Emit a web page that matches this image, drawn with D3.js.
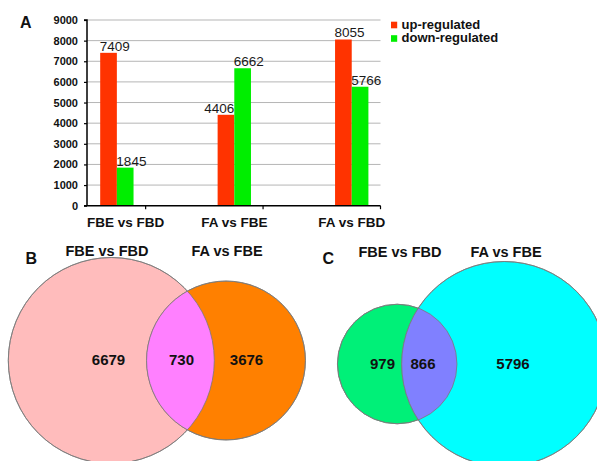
<!DOCTYPE html>
<html>
<head>
<meta charset="utf-8">
<script src="https://cdn.jsdelivr.net/npm/d3@7"></script>
<style>
  html, body { margin: 0; padding: 0; background: #fff; }
  svg { display: block; font-family: Arial, "Liberation Sans", Helvetica, sans-serif; }
</style>
</head>
<body>
<svg id="fig" width="597" height="461"></svg>
<script>
// ---- data ----
const categories = ["FBE vs FBD", "FA vs FBE", "FA vs FBD"];
const seriesNames = ["up-regulated", "down-regulated"];
const upRegulated = [7409, 4406, 8055];
const downRegulated = [1845, 6662, 5766];
const yTicks = [0, 1000, 2000, 3000, 4000, 5000, 6000, 7000, 8000, 9000];

// Venn regions: [left only, shared, right only]
const vennSetsB = ["FBE vs FBD", "FA vs FBE"];
const vennRegionsB = [6679, 730, 3676];
const vennSetsC = ["FBE vs FBD", "FA vs FBE"];
const vennRegionsC = [979, 866, 5796];

// ---- styles ----
const seriesColors = ["#ff3300", "#00ee00"];
const svg = d3.select("#fig");

// ---- panel A: grouped bar chart ----
const plotLeft = 87, plotRight = 380.5, plotTop = 20, plotBottom = 205.7;
const y = d3.scaleLinear().domain([0, 9000]).range([plotBottom, plotTop]);
const x = d3.scaleBand().domain(categories).range([28.2, plotRight]).padding(0);
const bw = x.bandwidth();
const barOffset = 0.613 * bw, barW = 0.142 * bw;
const series = [upRegulated, downRegulated];

// gridlines
svg.append("g").selectAll("line").data(yTicks.filter(d => d > 0)).join("line")
  .attr("x1", plotLeft).attr("x2", plotRight)
  .attr("y1", d => y(d)).attr("y2", d => y(d))
  .attr("stroke", "#b5b5b5").attr("stroke-width", 1);

// bars
const barG = svg.append("g");
series.forEach((vals, si) => {
  barG.selectAll(null).data(categories).join("rect")
    .attr("x", c => x(c) + barOffset + si * barW)
    .attr("y", (c, i) => y(vals[i]))
    .attr("width", barW)
    .attr("height", (c, i) => y(0) - y(vals[i]))
    .attr("fill", seriesColors[si]);
});

// value labels
series.forEach((vals, si) => {
  barG.selectAll(null).data(categories).join("text")
    .each(function (c, i) {
      const left = x(c) + barOffset + si * barW;
      // an up label sits flush right when the neighbouring down bar is taller
      const flushRight = si === 0 && downRegulated[i] > upRegulated[i];
      d3.select(this)
        .attr("x", flushRight ? left + barW : left - 0.5)
        .attr("text-anchor", flushRight ? "end" : "start");
    })
    .attr("y", (c, i) => y(vals[i]) - 2)
    .attr("font-size", 13.5).attr("fill", "#1a1a1a")
    .text((c, i) => vals[i]);
});

// y axis
const yAxis = d3.axisLeft(y).tickValues(yTicks).tickSize(3).tickPadding(6).tickFormat(d3.format("d"));
const yg = svg.append("g").attr("transform", `translate(${plotLeft},0)`).call(yAxis);
yg.select(".domain").attr("stroke", "#000").attr("stroke-width", 1.5).attr("d", `M-3,${plotTop}H0V${plotBottom}`);
yg.selectAll(".tick line").attr("stroke", "#000").attr("stroke-width", 1.2);
yg.selectAll(".tick text").attr("font-size", 11).attr("font-weight", "bold").attr("fill", "#111")
  .attr("font-family", "Arial, 'Liberation Sans', sans-serif");

// x axis baseline with ticks on category boundaries
const xg = svg.append("g");
xg.append("line").attr("x1", plotLeft - 3).attr("x2", plotRight)
  .attr("y1", plotBottom).attr("y2", plotBottom)
  .attr("stroke", "#000").attr("stroke-width", 1.5);
const boundaries = categories.map(c => x(c) + bw).filter(v => v > plotLeft);
xg.selectAll(null).data(boundaries).join("line")
  .attr("x1", d => d).attr("x2", d => d)
  .attr("y1", plotBottom).attr("y2", plotBottom + 3.5)
  .attr("stroke", "#000").attr("stroke-width", 1.2);
xg.selectAll(null).data(categories).join("text")
  .attr("y", 226.5).attr("font-size", 13.5).attr("font-weight", "bold").attr("fill", "#111")
  .attr("text-anchor", "middle")
  .text(d => d)
  .each(function (c) {
    const center = x(c) + barOffset + barW;
    const w = this.getComputedTextLength();
    d3.select(this).attr("x", Math.max(center, plotLeft + w / 2));
  });

// legend
const lg = svg.append("g").attr("transform", "translate(391,0)");
seriesNames.forEach((name, i) => {
  lg.append("rect").attr("x", 0).attr("y", 21.7 + i * 13.5).attr("width", 6.2).attr("height", 6.6)
    .attr("fill", seriesColors[i]);
  lg.append("text").attr("x", 10.5).attr("y", 28.6 + i * 13.5)
    .attr("font-size", 13).attr("font-weight", "bold").attr("fill", "#111").text(name);
});

// panel letters
[["A", 20, 27.5], ["B", 25.5, 263.5], ["C", 322.5, 263.5]].forEach(([t, px, py]) => {
  svg.append("text").attr("x", px).attr("y", py).attr("font-size", 16).attr("font-weight", "bold")
    .attr("fill", "#111").text(t);
});

// ---- panels B and C: two-set Venn diagrams ----
function venn(id, sets, regions, layout) {
  const leftTotal = regions[0] + regions[1];
  const rightTotal = regions[2] + regions[1];
  const r = d3.scalePow().exponent(layout.exponent)
    .domain([0, Math.max(leftTotal, rightTotal)]).range([0, layout.rMax]);
  const rl = r(leftTotal), rr = r(rightTotal);
  const cxL = layout.cxLeft, cxR = layout.cxLeft + layout.distance, cy = layout.cy;
  const g = svg.append("g");

  g.append("circle").attr("cx", cxL).attr("cy", cy).attr("r", rl)
    .attr("fill", layout.colors[0]).attr("stroke", "#7a7a7a").attr("stroke-width", 0.8);
  g.append("circle").attr("cx", cxR).attr("cy", cy).attr("r", rr)
    .attr("fill", layout.colors[2]).attr("stroke", "#7a7a7a").attr("stroke-width", 0.8);

  // shared region: right circle clipped by the left one
  const clip = svg.append("defs").append("clipPath").attr("id", "clip-" + id);
  clip.append("circle").attr("cx", cxL).attr("cy", cy).attr("r", rl);
  g.append("circle").attr("cx", cxR).attr("cy", cy).attr("r", rr)
    .attr("clip-path", `url(#clip-${id})`).attr("fill", layout.colors[1]);
  // lens outlines
  g.append("circle").attr("cx", cxL).attr("cy", cy).attr("r", rl)
    .attr("fill", "none").attr("stroke", "#7a7a7a").attr("stroke-width", 0.8);
  g.append("circle").attr("cx", cxR).attr("cy", cy).attr("r", rr)
    .attr("fill", "none").attr("stroke", "#7a7a7a").attr("stroke-width", 0.8);

  g.selectAll("text.count").data(regions).join("text").attr("class", "count")
    .attr("x", (d, i) => layout.labelX[i]).attr("y", layout.labelY)
    .attr("text-anchor", "middle").attr("font-size", 15).attr("font-weight", "bold").attr("fill", "#111")
    .text(d => d);

  g.selectAll("text.set").data(sets).join("text").attr("class", "set")
    .attr("x", (d, i) => layout.titleX[i]).attr("y", layout.titleY)
    .attr("text-anchor", "middle").attr("font-size", 14.5).attr("font-weight", "bold").attr("fill", "#111")
    .text(d => d);
}

venn("b", vennSetsB, vennRegionsB, {
  exponent: 0.5, rMax: 103, cxLeft: 111.3, distance: 114.7, cy: 360.5,
  colors: ["#ffbcbc", "#ff80ff", "#ff8000"],
  labelX: [108.5, 181.5, 246.5], labelY: 365.2,
  titleX: [107, 227], titleY: 256
});

venn("c", vennSetsC, vennRegionsC, {
  exponent: 0.42, rMax: 102.5, cxLeft: 397.2, distance: 107, cy: 364,
  colors: ["#00f078", "#8080ff", "#00ffff"],
  labelX: [382.5, 423, 513], labelY: 369.3,
  titleX: [400, 506], titleY: 257
});
</script>
</body>
</html>
